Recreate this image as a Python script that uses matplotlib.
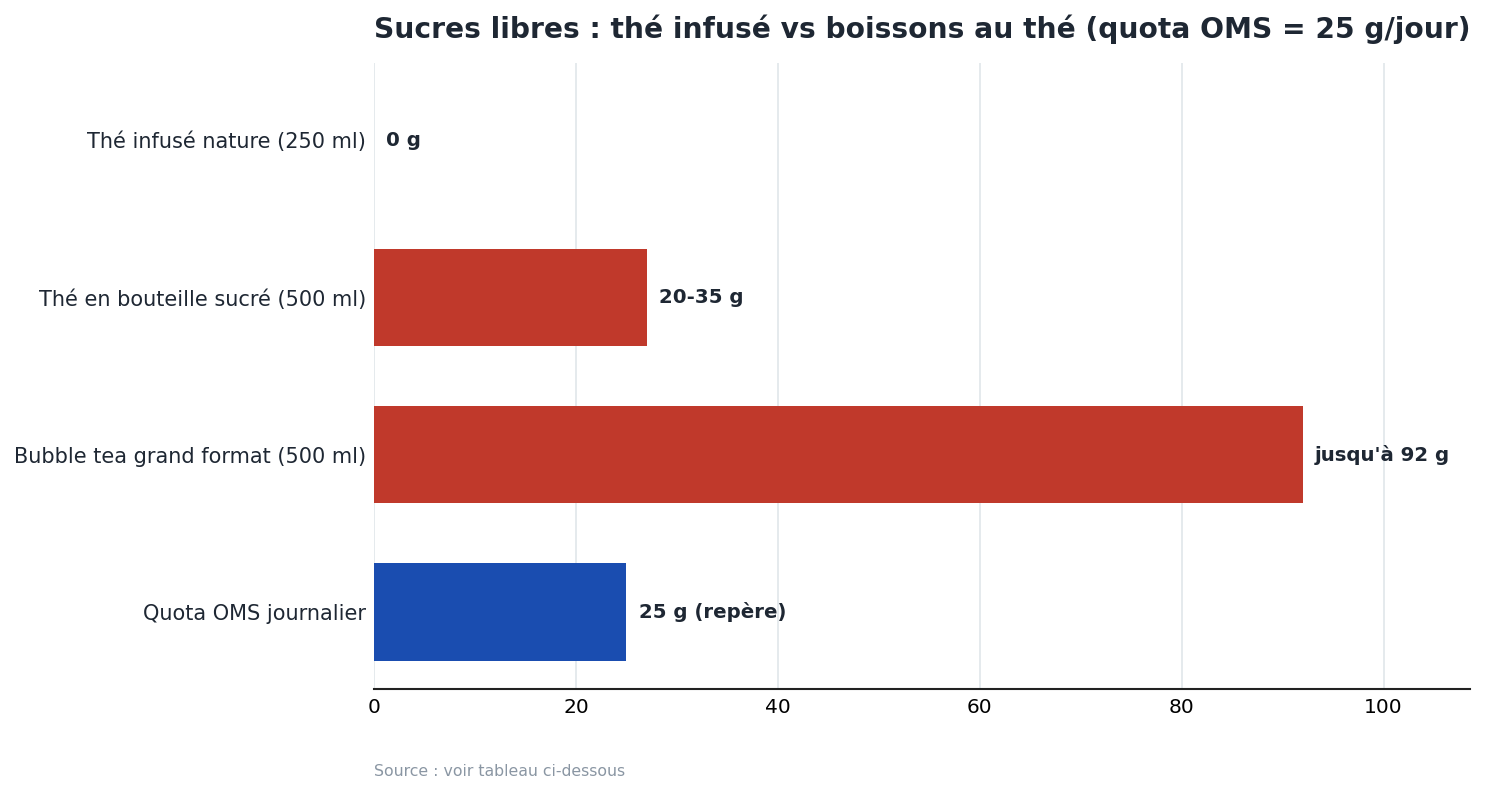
import matplotlib
matplotlib.use("Agg")
import matplotlib.pyplot as plt

categories = ["Thé infusé nature (250 ml)", "Thé en bouteille sucré (500 ml)",
              "Bubble tea grand format (500 ml)", "Quota OMS journalier"]
values = [0, 27, 92, 25]
labels = ["0 g", "20-35 g", "jusqu'à 92 g", "25 g (repère)"]
colors = ["#c0392b", "#c0392b", "#c0392b", "#1a4db0"]
xticks = [0, 20, 40, 60, 80, 100]

dark = "#1e2733"
fig = plt.figure(figsize=(14.85, 7.95), dpi=100)
ax = fig.add_axes([374/1485, 1 - 689/795, (1470 - 374)/1485, (689 - 63)/795])

y = list(range(len(categories)))
ax.barh(y, values, height=0.62, color=colors, zorder=3)
for yi, v, lab in zip(y, values, labels):
    ax.text(v + 1.2, yi, lab, va="center", ha="left", fontsize=14.2,
            fontweight="bold", color=dark, zorder=4)

ax.set_yticks(y)
ax.set_yticklabels(categories, fontsize=15, color=dark)
ax.set_xticks(xticks)
ax.set_xticklabels([str(t) for t in xticks], fontsize=14.5, color="black")
ax.set_xlim(0, 92 * 1.18)
ax.set_ylim(3.49, -0.49)
ax.tick_params(axis="both", length=0)
ax.tick_params(axis="y", pad=5.5)
ax.tick_params(axis="x", pad=6.5)
ax.grid(axis="x", color="#e3e8ec", linewidth=1.3, zorder=0)
for s in ["top", "right", "left"]:
    ax.spines[s].set_visible(False)
ax.spines["bottom"].set_color("#222222")
ax.spines["bottom"].set_linewidth(1.5)

fig.text(374/1485, 1 - 29/795, "Sucres libres : thé infusé vs boissons au thé (quota OMS = 25 g/jour)",
         fontsize=20.25, fontweight="bold", color=dark, ha="left", va="center")
fig.text(374/1485, 1 - 772/795, "Source : voir tableau ci-dessous", fontsize=11.3,
         color="#8a96a3", ha="left", va="center")

fig.savefig("out.png", dpi=100)
